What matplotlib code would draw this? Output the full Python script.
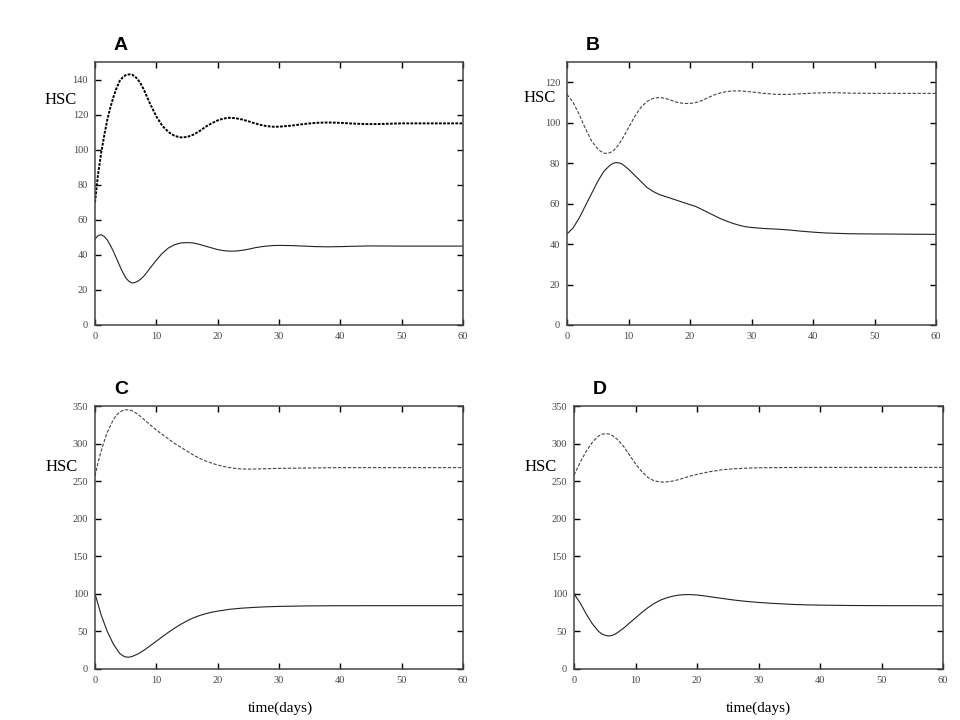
import numpy as np
import matplotlib.pyplot as plt

# ---- data (time in days, HSC counts) ----
tA_top = [0, 0.5, 1, 1.5, 2, 2.5, 3, 3.5, 4, 4.5, 5, 5.7, 6, 6.5, 7, 7.5, 8, 9, 10, 11, 12, 13, 14,
          15, 16, 17, 18, 19, 20, 21, 22, 23, 24, 25, 26, 27, 28, 29, 30, 32, 34, 36, 38, 40, 42, 44,
          46, 48, 50, 55, 60]
A_top = [70, 86, 98, 108, 117, 124, 130, 135, 139, 141.2, 142.5, 143, 142.8, 141.8, 140, 137.3, 134,
         126, 119, 113.5, 110, 107.8, 107, 107.2, 108.5, 110.5, 113, 115, 116.7, 117.8, 118.2, 117.9,
         117.2, 116.2, 115.1, 114.1, 113.4, 113.1, 113.1, 113.7, 114.6, 115.3, 115.5, 115.3, 114.9,
         114.6, 114.6, 114.8, 115, 115, 115]
tA_bot = [0, 0.5, 1, 1.5, 2, 2.5, 3, 3.5, 4, 4.5, 5, 5.5, 6, 6.5, 7, 7.5, 8, 9, 10, 11, 12, 13, 14,
          15, 16, 17, 18, 19, 20, 21, 22, 23, 24, 25, 26, 27, 28, 29, 30, 32, 34, 36, 38, 40, 42, 45,
          50, 60]
A_bot = [49, 51, 51.5, 50.5, 48.5, 45.5, 42, 38, 34, 30.2, 27, 25, 24, 24.2, 25, 26.3, 28, 32.5, 37,
         41, 44, 45.8, 46.8, 47, 46.8, 46, 45, 44, 43, 42.4, 42.1, 42.2, 42.6, 43.2, 44, 44.6, 45, 45.3,
         45.4, 45.3, 45, 44.7, 44.6, 44.7, 44.9, 45.1, 45, 45]

tB_top = [0, 1, 2, 3, 4, 5, 5.5, 6, 6.5, 7, 7.5, 8, 9, 10, 11, 12, 13, 14, 15, 16, 17, 18, 19, 20, 21,
          22, 23, 24, 25, 26, 27, 28, 29, 30, 32, 34, 36, 38, 40, 42, 44, 46, 50, 55, 60]
B_top = [114, 110, 104, 97, 91, 87, 85.8, 85, 84.8, 85.2, 86.1, 87.5, 92, 97.5, 103, 107.5, 110.5, 112,
         112.5, 112, 111, 110, 109.5, 109.5, 110, 111, 112.5, 113.8, 114.8, 115.4, 115.7, 115.7, 115.5,
         115.2, 114.5, 114, 114, 114.3, 114.6, 114.8, 114.8, 114.6, 114.5, 114.5, 114.5]
tB_bot = [0, 1, 2, 3, 4, 5, 6, 7, 7.5, 8, 8.5, 9, 10, 11, 12, 13, 14, 15, 16, 17, 18, 19, 20, 21, 22,
          23, 24, 25, 26, 27, 28, 29, 30, 32, 34, 36, 38, 40, 42, 44, 46, 50, 60]
B_bot = [45, 48, 53, 59, 65, 71, 76, 79, 79.9, 80.3, 80.1, 79.5, 77, 74, 71, 68, 66, 64.5, 63.5, 62.5,
         61.5, 60.5, 59.5, 58.5, 57, 55.5, 54, 52.5, 51.3, 50.2, 49.3, 48.6, 48.2, 47.7, 47.4, 47, 46.4,
         45.9, 45.5, 45.3, 45.1, 45, 44.8]

tC_top = [0, 0.5, 1, 1.5, 2, 3, 3.5, 4, 4.5, 5, 5.5, 6, 7, 8, 9, 10, 11, 12, 13, 14, 15, 16, 17, 18,
          19, 20, 21, 22, 23, 24, 25, 27, 30, 35, 40, 50, 60]
C_top = [257, 275, 290, 303, 315, 332, 338, 341.5, 343.8, 345, 344.8, 344, 339, 332, 325, 318, 312,
         306, 300, 295, 290, 285, 280.5, 277, 274, 271.5, 269.5, 268, 266.8, 266.2, 266, 266.3, 267,
         267.5, 268, 268, 268]
tC_bot = [0, 1, 2, 3, 4, 4.5, 5, 5.5, 6, 7, 8, 9, 10, 11, 12, 13, 14, 15, 16, 17, 18, 19, 20, 22, 24,
          26, 28, 30, 35, 40, 50, 60]
C_bot = [100, 72, 50, 33, 21, 17.8, 16, 15.7, 16.5, 20, 25, 31, 37, 43, 49, 54.5, 59.5, 64, 68, 71,
         73.5, 75.5, 77, 79.5, 81, 82, 82.8, 83.3, 84, 84.2, 84.3, 84.3]

tD_top = [0, 1, 2, 3, 4, 4.5, 5, 5.5, 6, 7, 8, 9, 10, 11, 12, 13, 14, 14.5, 15, 16, 17, 18, 19, 20, 22,
          24, 26, 28, 30, 35, 40, 50, 60]
D_top = [258, 275, 290, 302, 310, 312.3, 313, 313, 312, 306, 297, 285, 273, 263, 255, 250.5, 249,
         248.8, 249, 250, 252, 254.5, 257, 259, 262.5, 265, 266.5, 267.3, 267.8, 268.2, 268.3, 268.3,
         268.3]
tD_bot = [0, 1, 2, 3, 4, 4.5, 5, 5.5, 6, 6.5, 7, 8, 9, 10, 11, 12, 13, 14, 15, 16, 17, 18, 19, 20, 21,
          22, 24, 26, 28, 30, 32, 34, 36, 38, 40, 45, 50, 60]
D_bot = [100, 88, 73, 60, 50, 46.8, 45, 44, 44.3, 45.6, 48, 54, 61, 68, 75, 81.5, 87, 91.5, 94.5, 96.8,
         98.3, 99, 99, 98.5, 97.5, 96.3, 94, 91.8, 90, 88.6, 87.5, 86.6, 85.8, 85.3, 85, 84.5, 84.3, 84.2]

serif = ['Liberation Serif', 'DejaVu Serif']
fig = plt.figure(figsize=(9.6, 7.2), dpi=100)

W, H = 960.0, 720.0
# axes boxes in pixels: left, top, right, bottom
boxes = {
    'A': (95, 62, 463, 325),
    'B': (567, 62, 936, 325),
    'C': (95, 406, 463, 669),
    'D': (574, 406, 943, 669),
}

def make_ax(key, ymax, ystep):
    l, t, r, b = boxes[key]
    ax = fig.add_axes([l / W, 1 - b / H, (r - l) / W, (b - t) / H])
    ax.set_xlim(0, 60)
    ax.set_ylim(0, ymax)
    ax.set_xticks(np.arange(0, 61, 10))
    ax.set_yticks(np.arange(0, ymax + 1, ystep))
    ax.tick_params(direction='in', top=True, right=True, length=4, width=1.0,
                   labelsize=7.5, labelcolor='#444444', pad=5)
    for lab in ax.get_xticklabels() + ax.get_yticklabels():
        lab.set_family(serif)
    for s in ax.spines.values():
        s.set_linewidth(1.1)
        s.set_color('#444444')
    # panel letter
    fig.text((l + 26) / W, 1 - (t - 17) / H, key, fontsize=14, fontweight='bold',
             family=['Liberation Sans', 'DejaVu Sans'], ha='center', va='center')
    return ax

solid = dict(color='#222222', lw=0.8)
dashed = dict(color='#444444', lw=0.8, ls=(0, (3, 1.5)))

axA = make_ax('A', 150, 20)
axA.plot(tA_top, A_top, color='black', lw=1.4, ls=(0, (1.4, 0.7)))
axA.plot(tA_bot, A_bot, **solid)
fig.text(61 / W, 1 - 100 / H, 'HSC', fontsize=12, family=serif, ha='center', va='center')

axB = make_ax('B', 130, 20)
axB.plot(tB_top, B_top, **dashed)
axB.plot(tB_bot, B_bot, **solid)
fig.text(540 / W, 1 - 98 / H, 'HSC', fontsize=12, family=serif, ha='center', va='center')

axC = make_ax('C', 350, 50)
axC.plot(tC_top, C_top, **dashed)
axC.plot(tC_bot, C_bot, **solid)
fig.text(62 / W, 1 - 467 / H, 'HSC', fontsize=12, family=serif, ha='center', va='center')
fig.text(280 / W, 1 - 708 / H, 'time(days)', fontsize=11, family=serif, ha='center', va='center')

axD = make_ax('D', 350, 50)
axD.plot(tD_top, D_top, **dashed)
axD.plot(tD_bot, D_bot, **solid)
fig.text(541 / W, 1 - 467 / H, 'HSC', fontsize=12, family=serif, ha='center', va='center')
fig.text(758 / W, 1 - 708 / H, 'time(days)', fontsize=11, family=serif, ha='center', va='center')

fig.savefig('out.png', dpi=100)
